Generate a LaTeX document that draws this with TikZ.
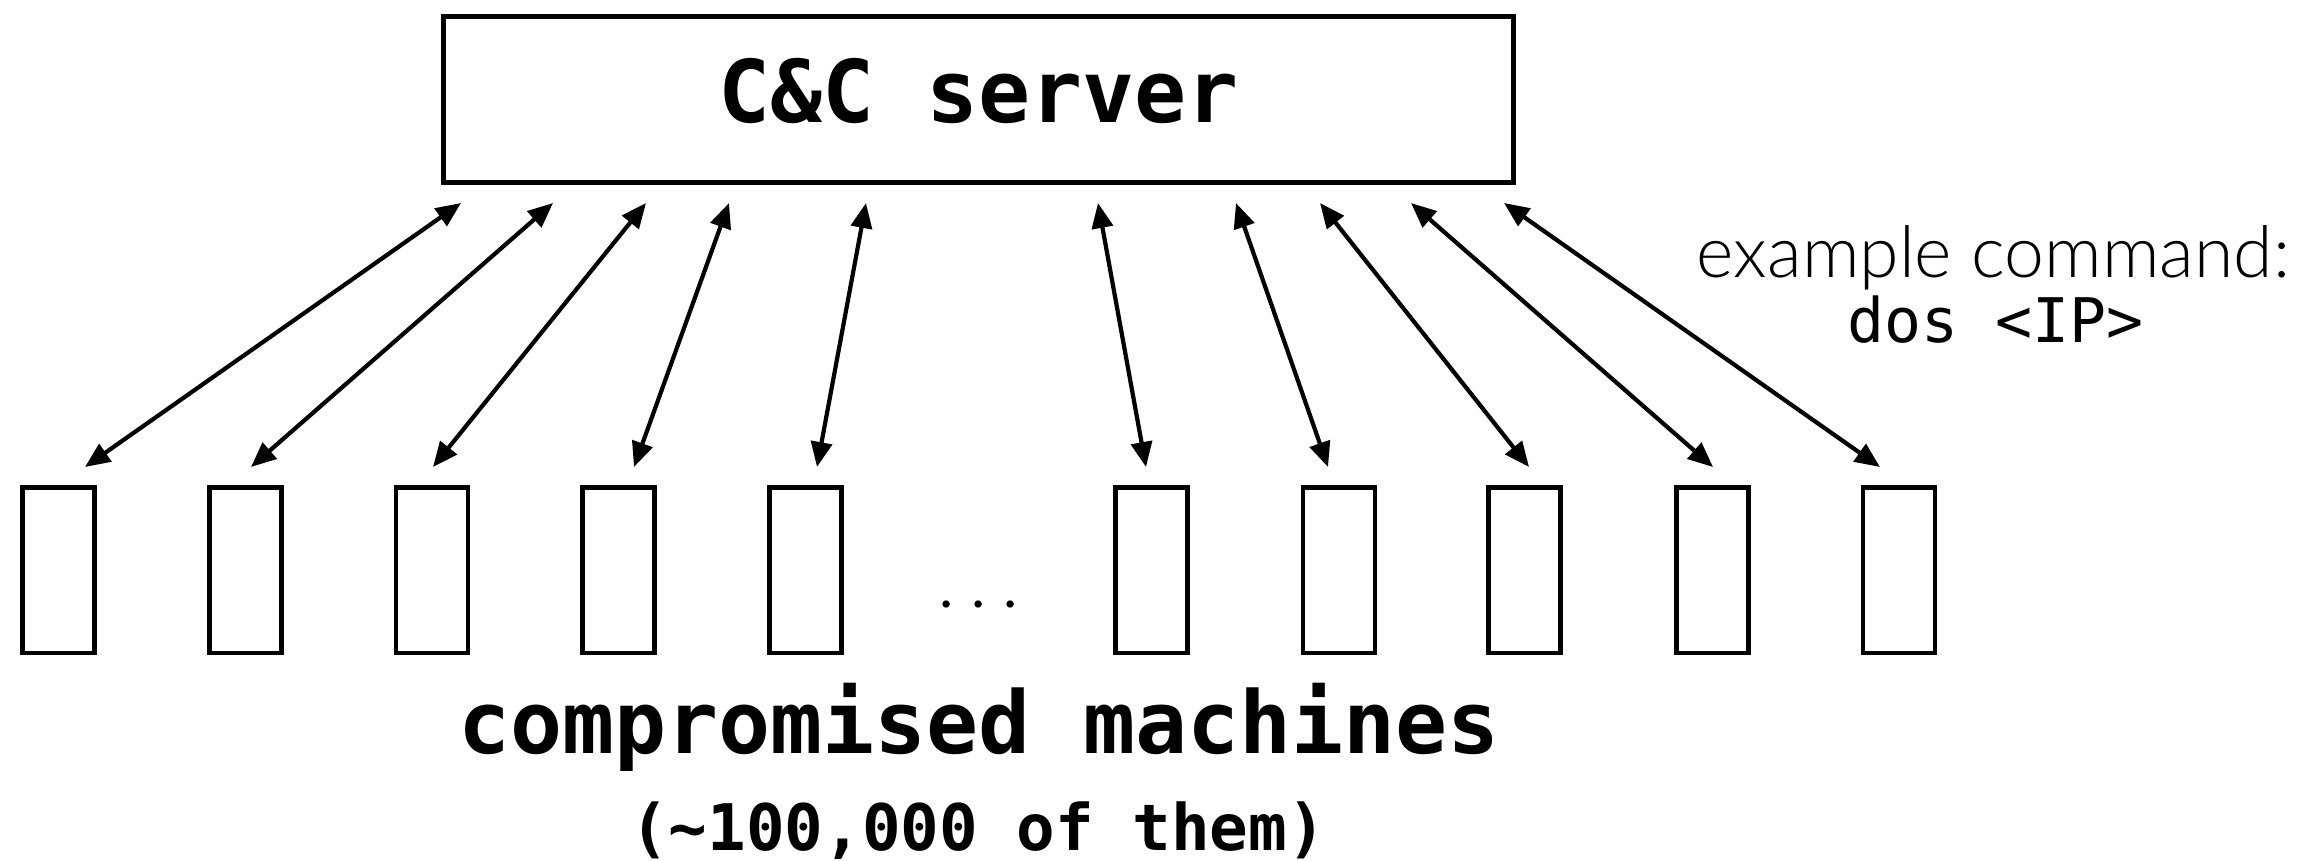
\documentclass[tikz,border=0pt]{standalone}
\usepackage{fontspec}
\usetikzlibrary{arrows.meta,calc}
\newfontfamily\codefont{DejaVu Sans Mono}
\newfontfamily\lightfont{Lato Light}

\tikzset{
  server/.style={draw, line width=5pt, minimum width=1070pt, minimum height=166pt,
    text height=60pt, text depth=15pt, inner sep=0pt,
    font=\codefont\bfseries\fontsize{86.5}{90}\selectfont},
  machine/.style={draw, line width=4.5pt, minimum width=72pt, minimum height=165.5pt, inner sep=0pt},
  link/.style={line width=4.2pt, {Triangle[length=25pt,width=21pt]}-{Triangle[length=25pt,width=21pt]}},
  label/.style={inner sep=0pt, anchor=base},
}

\begin{document}
\begin{tikzpicture}[x=1pt,y=-1pt]
  \useasboundingbox (0,0) rectangle (2310,860);

  % command-and-control server
  \node[server] (srv) at (978.5,99.5) {C\&C server};

  % bots
  \foreach \i/\x in {1/58.3,2/245.4,3/432,4/618.6,5/805.7,6/1151.7,7/1339.2,8/1524.7,9/1712.6,10/1898.9}
    \node[machine] (m\i) at (\x,570) {};

  \node[label, font=\lightfont\fontsize{78}{78}\selectfont] (dots) at (979,607)
    {\makebox[32pt]{.}\makebox[32pt]{.}\makebox[32pt]{.}};

  % two-way links: offset from the server's lower-left corner / from each bot's top
  \foreach \i/\sx/\bx in {1/20/26.7, 2/112/5.6, 3/205/1, 4/288/15.4, 5/425/11.3,
                          6/657/-5.7, 7/795/-11.2, 8/879/4.3, 9/970/0.4, 10/1063/-18.9}
    \draw[link] ($(srv.south west)+(\sx,18)$) -- ($(m\i.north)+(\bx,-18)$);

  \node[label, font=\codefont\bfseries\fontsize{86.5}{90}\selectfont] (title) at (979,753)
    {compromised machines};
  \node[label, font=\codefont\bfseries\fontsize{64.2}{70}\selectfont] (count) at (978,850)
    {(\textasciitilde100,000 of them)};

  \node[label, font=\lightfont\fontsize{71.5}{72}\selectfont] (ex) at (1993.5,277)
    {example command:};
  \node[label, font=\codefont\fontsize{61.5}{65}\selectfont] (cmd) at (1995.5,342)
    {dos <IP>};
\end{tikzpicture}
\end{document}
